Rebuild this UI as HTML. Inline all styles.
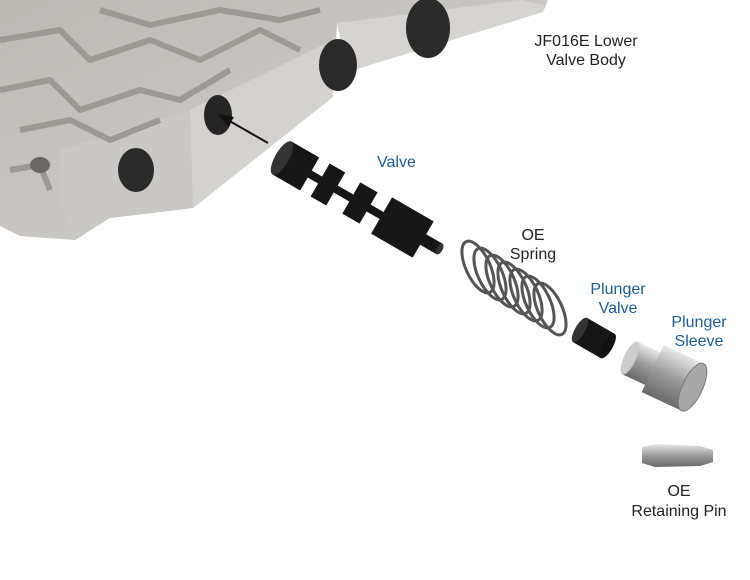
<!DOCTYPE html>
<html><head><meta charset="utf-8"><style>
html,body{margin:0;padding:0;background:#fff;width:750px;height:580px;overflow:hidden}
svg{display:block}
text{font-family:"Liberation Sans",sans-serif;font-size:16px}
.b{fill:#1d5c9c}.k{fill:#222}
</style></head><body>
<svg width="750" height="580" viewBox="0 0 750 580">
<defs>
<linearGradient id="al" x1="0" y1="0" x2="1" y2="1"><stop offset="0" stop-color="#bdbab6"/><stop offset="1" stop-color="#d2d0cd"/></linearGradient>
<linearGradient id="sl" x1="0" y1="0" x2="0" y2="1"><stop offset="0" stop-color="#e8e8e8"/><stop offset="0.5" stop-color="#9a9a9a"/><stop offset="1" stop-color="#6a6a6a"/></linearGradient>
</defs>
<polygon points="0,0 548,0 543,12 347,72 337,23 333,97 193,208 110,218 75,240 20,236 0,226" fill="url(#al)"/>
<polygon points="337,23 520,0 545,5 543,12 347,72" fill="#d6d4d1"/>
<polygon points="190,110 333,40 333,97 193,208" fill="#d4d2cf"/>
<polygon points="60,150 190,110 193,208 110,218 75,240 60,200" fill="#cac8c5"/>
<g fill="none" stroke="#9c9995" stroke-width="6" stroke-linejoin="round">
<path d="M0,40 L60,30 L90,60 L150,40 L200,60 L260,30 L300,50"/>
<path d="M0,90 L50,80 L80,110 L140,90 L180,100 L230,70"/>
<path d="M20,130 L70,120 L110,140 L160,120"/>
<path d="M100,10 L150,25 L220,10 L280,20 L320,10"/>
<path d="M10,170 L40,165 L50,190"/>
</g>
<ellipse cx="428" cy="28" rx="22" ry="30" fill="#2a2a2a"/>
<ellipse cx="338" cy="65" rx="19" ry="26" fill="#2a2a2a"/>
<ellipse cx="218" cy="115" rx="14" ry="20" fill="#252525"/>
<ellipse cx="136" cy="170" rx="18" ry="22" fill="#2a2a2a"/>
<ellipse cx="40" cy="165" rx="10" ry="8" fill="#6a6764"/>
<line x1="268" y1="143" x2="226" y2="119" stroke="#111" stroke-width="2"/>
<polygon points="218,114 234,117 228,127" fill="#111"/>
<g transform="translate(282,158) rotate(30)" fill="#161616">
<rect x="0" y="-4" width="170" height="8"/>
<rect x="0" y="-19" width="32" height="38"/>
<ellipse cx="0" cy="0" rx="7" ry="19" fill="#333"/>
<rect x="44" y="-19" width="18" height="38"/>
<rect x="80" y="-18" width="20" height="36"/>
<rect x="115" y="-21" width="48" height="42"/>
<rect x="160" y="-6" width="22" height="12"/>
<ellipse cx="182" cy="0" rx="3" ry="6" fill="#333"/>
</g>
<g fill="none" stroke="#555" stroke-width="3">
<ellipse cx="478" cy="267" rx="12" ry="28" transform="rotate(-25 478 267)"/>
<ellipse cx="490" cy="274" rx="12" ry="28" transform="rotate(-25 490 274)"/>
<ellipse cx="502" cy="281" rx="12" ry="28" transform="rotate(-25 502 281)"/>
<ellipse cx="514" cy="288" rx="12" ry="28" transform="rotate(-25 514 288)"/>
<ellipse cx="526" cy="295" rx="12" ry="28" transform="rotate(-25 526 295)"/>
<ellipse cx="538" cy="302" rx="12" ry="28" transform="rotate(-25 538 302)"/>
<ellipse cx="550" cy="309" rx="12" ry="28" transform="rotate(-25 550 309)"/>
</g>
<g transform="translate(580,330) rotate(30)">
<rect x="0" y="-14" width="32" height="28" fill="#161616"/>
<ellipse cx="0" cy="0" rx="5" ry="14" fill="#333"/>
<ellipse cx="32" cy="0" rx="5" ry="14" fill="#111"/>
</g>
<g transform="translate(630,358) rotate(25)">
<rect x="0" y="-18" width="28" height="36" fill="url(#sl)"/>
<rect x="25" y="-26" width="44" height="52" fill="url(#sl)"/>
<ellipse cx="0" cy="0" rx="6" ry="18" fill="#ccc"/>
<ellipse cx="69" cy="0" rx="10" ry="26" fill="#a8a8a8" stroke="#777"/>
</g>
<polygon points="642,447 655,444 700,446 713,450 713,462 700,466 655,467 642,463" fill="url(#sl)"/>
<text class="k" x="586" y="46" text-anchor="middle">JF016E Lower</text>
<text class="k" x="586" y="65" text-anchor="middle">Valve Body</text>
<text class="b" x="377" y="167">Valve</text>
<text class="k" x="533" y="240" text-anchor="middle">OE</text>
<text class="k" x="533" y="259" text-anchor="middle">Spring</text>
<text class="b" x="618" y="294" text-anchor="middle">Plunger</text>
<text class="b" x="618" y="313" text-anchor="middle">Valve</text>
<text class="b" x="699" y="327" text-anchor="middle">Plunger</text>
<text class="b" x="699" y="346" text-anchor="middle">Sleeve</text>
<text class="k" x="679" y="496" text-anchor="middle">OE</text>
<text class="k" x="679" y="516" text-anchor="middle">Retaining Pin</text>
</svg>
</body></html>
